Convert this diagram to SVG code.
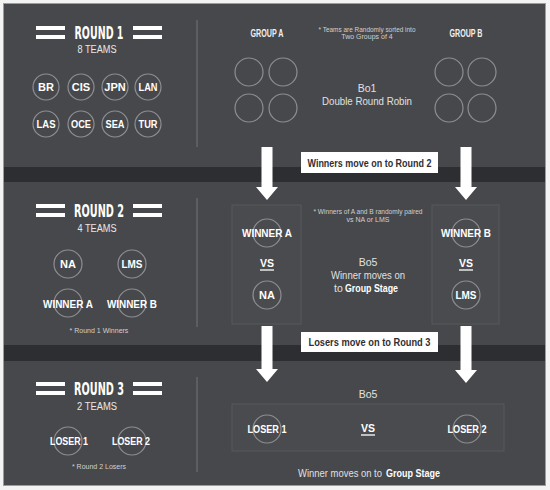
<svg xmlns="http://www.w3.org/2000/svg" width="550" height="490" viewBox="0 0 550 490">
<defs>
<style>
.bg{fill:#47484b}
.band{fill:#2c2e32}
.div{stroke:#6c6d70;stroke-width:1.2}
.bar{fill:#ffffff}
.title{font-family:"Liberation Sans Narrow","DejaVu Sans Condensed","Liberation Sans",sans-serif;font-weight:bold;font-size:18px;fill:#ffffff;text-anchor:middle}
.sub{font-family:"Liberation Sans Narrow","Liberation Sans",sans-serif;font-size:10px;fill:#e8e8e8;text-anchor:middle}
.ring{fill:none;stroke:#8e8f92;stroke-width:1.2}
.team{font-family:"Liberation Sans Narrow","Liberation Sans",sans-serif;font-weight:bold;font-size:11px;fill:#ffffff;text-anchor:middle}
.grp{font-family:"Liberation Sans Narrow","Liberation Sans",sans-serif;font-weight:bold;font-size:11px;fill:#f0f0f0;text-anchor:middle}
.note{font-family:"Liberation Sans Narrow","Liberation Sans",sans-serif;font-size:7px;fill:#d0d0d0;text-anchor:middle}
.info{font-family:"Liberation Sans",sans-serif;font-size:10.5px;fill:#e0e0e0;text-anchor:middle}
.st{text-anchor:start}
.infob{font-family:"Liberation Sans",sans-serif;font-size:10.5px;font-weight:bold;fill:#ffffff;text-anchor:start}
.box{fill:#4a4b4e;stroke:#56585b;stroke-width:1}
.vs{font-family:"Liberation Sans",sans-serif;font-weight:bold;font-size:10.5px;fill:#ffffff;text-anchor:middle}
.ul{stroke:#ffffff;stroke-width:1.3}
.lbl{fill:#ffffff}
.lblt{font-family:"Liberation Sans",sans-serif;font-weight:bold;font-size:10.5px;fill:#2e2f33;text-anchor:middle}
.arrow{fill:#ffffff}
</style>
</defs>
<rect x="0" y="0" width="550" height="490" fill="#f3f3f3"/>
<rect x="3.5" y="3.5" width="542" height="482" class="bg" stroke="#9c9c9c" stroke-width="1"/>
<rect x="4" y="167" width="541" height="15" class="band"/>
<rect x="4" y="345" width="541" height="16" class="band"/>
<line x1="197" y1="20" x2="197" y2="147" class="div"/>
<line x1="197" y1="198" x2="197" y2="327" class="div"/>
<line x1="197" y1="377" x2="197" y2="472" class="div"/>

<g id="round1-title">
<rect x="36" y="26" width="29" height="4" class="bar"/>
<rect x="36" y="35" width="29" height="4" class="bar"/>
<rect x="133" y="26" width="29" height="4" class="bar"/>
<rect x="133" y="35" width="29" height="4" class="bar"/>
<text x="99" y="39" class="title" textLength="49" lengthAdjust="spacingAndGlyphs">ROUND 1</text>
<text x="97" y="53" class="sub" textLength="39" lengthAdjust="spacingAndGlyphs">8 TEAMS</text>
</g>
<g id="team-br"><circle cx="46" cy="87" r="13" class="ring"/><text x="46" y="91" class="team">BR</text></g>
<g id="team-cis"><circle cx="81" cy="87" r="13" class="ring"/><text x="81" y="91" class="team">CIS</text></g>
<g id="team-jpn"><circle cx="115" cy="87" r="13" class="ring"/><text x="115" y="91" class="team">JPN</text></g>
<g id="team-lan"><circle cx="148" cy="87" r="13" class="ring"/><text x="148" y="91" class="team" textLength="19" lengthAdjust="spacingAndGlyphs">LAN</text></g>
<g id="team-las"><circle cx="46" cy="124" r="13" class="ring"/><text x="46" y="128" class="team" textLength="19" lengthAdjust="spacingAndGlyphs">LAS</text></g>
<g id="team-oce"><circle cx="81" cy="124" r="13" class="ring"/><text x="81" y="128" class="team" textLength="20" lengthAdjust="spacingAndGlyphs">OCE</text></g>
<g id="team-sea"><circle cx="115" cy="124" r="13" class="ring"/><text x="115" y="128" class="team" textLength="19" lengthAdjust="spacingAndGlyphs">SEA</text></g>
<g id="team-tur"><circle cx="148" cy="124" r="13" class="ring"/><text x="148" y="128" class="team" textLength="19" lengthAdjust="spacingAndGlyphs">TUR</text></g>

<g id="group-a">
<text x="267" y="37" class="grp" textLength="33" lengthAdjust="spacingAndGlyphs">GROUP A</text>
<circle cx="249" cy="72" r="14" class="ring"/>
<circle cx="283" cy="72" r="14" class="ring"/>
<circle cx="249" cy="108" r="14" class="ring"/>
<circle cx="283" cy="108" r="14" class="ring"/>
</g>
<g id="group-b">
<text x="466" y="37" class="grp" textLength="33" lengthAdjust="spacingAndGlyphs">GROUP B</text>
<circle cx="449" cy="72" r="14" class="ring"/>
<circle cx="482" cy="72" r="14" class="ring"/>
<circle cx="449" cy="108" r="14" class="ring"/>
<circle cx="482" cy="108" r="14" class="ring"/>
</g>
<g id="round1-info">
<text x="367" y="32" class="note" textLength="97" lengthAdjust="spacingAndGlyphs">* Teams are Randomly sorted into</text>
<text x="367" y="39" class="note">Two Groups of 4</text>
<text x="367" y="92" class="info">Bo1</text>
<text x="367" y="105" class="info" textLength="90" lengthAdjust="spacingAndGlyphs">Double Round Robin</text>
</g>

<g id="round2-title">
<rect x="36" y="204" width="29" height="4" class="bar"/>
<rect x="36" y="213" width="29" height="4" class="bar"/>
<rect x="133" y="204" width="29" height="4" class="bar"/>
<rect x="133" y="213" width="29" height="4" class="bar"/>
<text x="99" y="217" class="title" textLength="50" lengthAdjust="spacingAndGlyphs">ROUND 2</text>
<text x="97" y="232" class="sub" textLength="39" lengthAdjust="spacingAndGlyphs">4 TEAMS</text>
</g>
<g id="team-na"><circle cx="68" cy="264" r="14" class="ring"/><text x="68" y="268" class="team">NA</text></g>
<g id="team-lms"><circle cx="132" cy="264" r="14" class="ring"/><text x="132" y="268" class="team" textLength="21" lengthAdjust="spacingAndGlyphs">LMS</text></g>
<g id="team-winner-a"><circle cx="68" cy="303" r="14" class="ring"/><text x="68" y="308" class="team" textLength="50" lengthAdjust="spacingAndGlyphs">WINNER A</text></g>
<g id="team-winner-b"><circle cx="132" cy="303" r="14" class="ring"/><text x="132" y="308" class="team" textLength="50" lengthAdjust="spacingAndGlyphs">WINNER B</text></g>
<text x="99" y="333" class="note">* Round 1 Winners</text>

<g id="match-a">
<rect x="232" y="205" width="69" height="119" class="box"/>
<circle cx="267" cy="233" r="14" class="ring"/>
<text x="267" y="237" class="team" textLength="50" lengthAdjust="spacingAndGlyphs">WINNER A</text>
<text x="267" y="267" class="vs">VS</text>
<line x1="260" y1="270" x2="274" y2="270" class="ul"/>
<circle cx="267" cy="295" r="14" class="ring"/>
<text x="267" y="299" class="team">NA</text>
</g>
<g id="match-b">
<rect x="432" y="205" width="67" height="119" class="box"/>
<circle cx="466" cy="233" r="14" class="ring"/>
<text x="466" y="237" class="team" textLength="50" lengthAdjust="spacingAndGlyphs">WINNER B</text>
<text x="466" y="267" class="vs">VS</text>
<line x1="459" y1="270" x2="473" y2="270" class="ul"/>
<circle cx="466" cy="295" r="14" class="ring"/>
<text x="466" y="299" class="team" textLength="21" lengthAdjust="spacingAndGlyphs">LMS</text>
</g>
<g id="round2-info">
<text x="368" y="214" class="note" textLength="109" lengthAdjust="spacingAndGlyphs">* Winners of A and B randomly paired</text>
<text x="368" y="222" class="note">vs NA or LMS</text>
<text x="368" y="266" class="info">Bo5</text>
<text x="368" y="279" class="info" textLength="74" lengthAdjust="spacingAndGlyphs">Winner moves on</text>
<text x="334" y="292" class="info st">to</text>
<text x="345" y="292" class="infob" textLength="53" lengthAdjust="spacingAndGlyphs">Group Stage</text>
</g>

<g id="round3-title">
<rect x="36" y="382" width="29" height="4" class="bar"/>
<rect x="36" y="391" width="29" height="4" class="bar"/>
<rect x="133" y="382" width="29" height="4" class="bar"/>
<rect x="133" y="391" width="29" height="4" class="bar"/>
<text x="99" y="395" class="title" textLength="50" lengthAdjust="spacingAndGlyphs">ROUND 3</text>
<text x="97" y="410" class="sub" textLength="40" lengthAdjust="spacingAndGlyphs">2 TEAMS</text>
</g>
<g id="team-loser-1"><circle cx="68" cy="441" r="14" class="ring"/><text x="69" y="445" class="team" textLength="38" lengthAdjust="spacingAndGlyphs">LOSER 1</text></g>
<g id="team-loser-2"><circle cx="132" cy="441" r="14" class="ring"/><text x="131" y="445" class="team" textLength="38" lengthAdjust="spacingAndGlyphs">LOSER 2</text></g>
<text x="99" y="469" class="note">* Round 2 Losers</text>

<g id="match-final">
<text x="368" y="398" class="info">Bo5</text>
<rect x="232" y="404" width="272" height="47" class="box"/>
<circle cx="267" cy="429" r="14" class="ring"/>
<text x="267" y="433" class="team" textLength="39" lengthAdjust="spacingAndGlyphs">LOSER 1</text>
<text x="368" y="432" class="vs">VS</text>
<line x1="361" y1="435" x2="375" y2="435" class="ul"/>
<circle cx="467" cy="429" r="14" class="ring"/>
<text x="467" y="433" class="team" textLength="39" lengthAdjust="spacingAndGlyphs">LOSER 2</text>
<text x="298" y="477" class="info st" textLength="84" lengthAdjust="spacingAndGlyphs">Winner moves on to</text>
<text x="386" y="477" class="infob" textLength="54" lengthAdjust="spacingAndGlyphs">Group Stage</text>
</g>

<g id="connectors">
<path class="arrow" d="M261.5 147 H272.5 V187 H278 L267 200 L256 187 H261.5 Z"/>
<path class="arrow" d="M460.5 147 H471.5 V187 H477 L466 200 L455 187 H460.5 Z"/>
<path class="arrow" d="M261.5 326 H272.5 V369 H278 L267 382 L256 369 H261.5 Z"/>
<path class="arrow" d="M460.5 326 H471.5 V370 H477 L466 383 L455 370 H460.5 Z"/>
<g id="label-winners">
<rect x="301" y="152" width="137" height="21" class="lbl"/>
<text x="369.5" y="166.5" class="lblt" textLength="124" lengthAdjust="spacingAndGlyphs">Winners move on to Round 2</text>
</g>
<g id="label-losers">
<rect x="301" y="332" width="137" height="20" class="lbl"/>
<text x="369.5" y="346" class="lblt" textLength="122" lengthAdjust="spacingAndGlyphs">Losers move on to Round 3</text>
</g>
</g>
</svg>
